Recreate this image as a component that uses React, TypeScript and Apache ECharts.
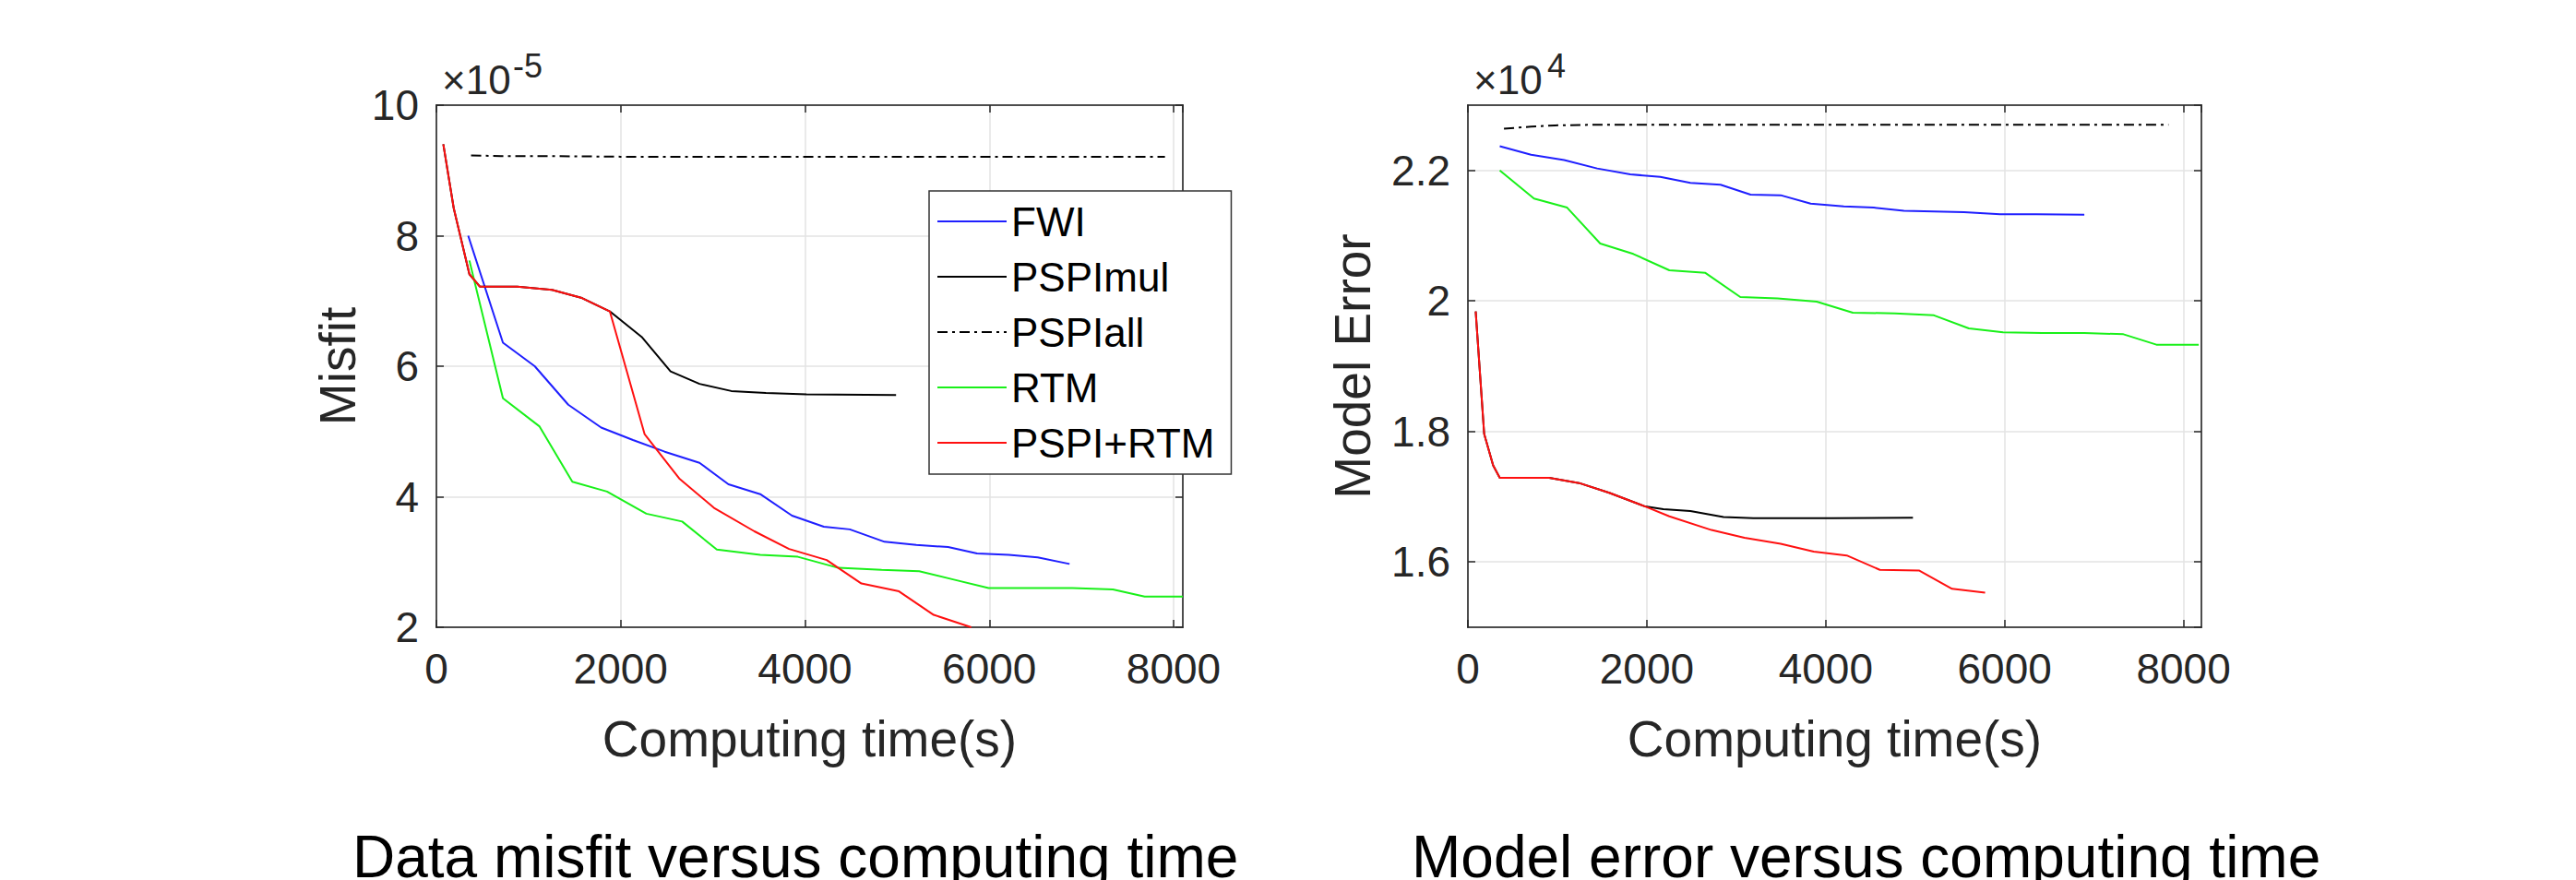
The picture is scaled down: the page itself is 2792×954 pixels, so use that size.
import React, { useEffect, useRef } from "react";
import * as echarts from "echarts";

// ---------- data ----------
const seriesNames = ["FWI", "PSPImul", "PSPIall", "RTM", "PSPI+RTM"];
const seriesColors = ["#1f1fff", "#000000", "#000000", "#19f019", "#ff1010"];

// Data misfit (x 10^-5) versus computing time (s)
const fwiMisfit = [[345, 8.0], [722, 6.36], [1067, 6.0], [1431, 5.41], [1788, 5.06], [2133, 4.87], [2478, 4.69], [2855, 4.52], [3169, 4.19], [3514, 4.04], [3859, 3.71], [4204, 3.54], [4486, 3.5], [4863, 3.31], [5208, 3.26], [5553, 3.23], [5867, 3.13], [6212, 3.11], [6525, 3.07], [6871, 2.97]];
const pspiMulMisfit = [[75, 9.4], [188, 8.42], [358, 7.41], [471, 7.22], [878, 7.22], [1255, 7.17], [1569, 7.05], [1882, 6.84], [2227, 6.45], [2541, 5.92], [2855, 5.73], [3200, 5.62], [3576, 5.59], [4016, 5.57], [4988, 5.56]];
const pspiAllMisfit = [[376, 9.23], [700, 9.22], [1200, 9.22], [2000, 9.21], [3000, 9.21], [4000, 9.21], [5000, 9.21], [6000, 9.21], [7000, 9.21], [7906, 9.21]];
const rtmMisfit = [[358, 7.62], [722, 5.51], [1117, 5.08], [1475, 4.23], [1851, 4.08], [2278, 3.74], [2667, 3.62], [3043, 3.19], [3514, 3.11], [3922, 3.08], [4361, 2.91], [4831, 2.88], [5239, 2.86], [5616, 2.73], [5992, 2.6], [6431, 2.6], [6902, 2.6], [7341, 2.58], [7686, 2.47], [8100, 2.47]];
const pspiRtmMisfit = [[75, 9.4], [188, 8.42], [358, 7.41], [471, 7.22], [878, 7.22], [1255, 7.17], [1569, 7.05], [1882, 6.84], [2259, 4.96], [2635, 4.28], [3012, 3.83], [3451, 3.47], [3827, 3.2], [4235, 3.03], [4612, 2.67], [5020, 2.55], [5396, 2.19], [5804, 2.0]];

// Model error (x 10^4) versus computing time (s)
const fwiError = [[356, 2.237], [706, 2.224], [1076, 2.216], [1445, 2.203], [1815, 2.194], [2151, 2.19], [2487, 2.181], [2824, 2.178], [3160, 2.163], [3496, 2.162], [3832, 2.149], [4202, 2.145], [4538, 2.143], [4874, 2.138], [5210, 2.137], [5546, 2.136], [5950, 2.133], [6353, 2.133], [6891, 2.132]];
const pspiMulError = [[87, 1.984], [182, 1.796], [282, 1.748], [356, 1.729], [908, 1.729], [1244, 1.721], [1580, 1.706], [1983, 1.685], [2185, 1.681], [2487, 1.678], [2857, 1.669], [3193, 1.667], [4067, 1.667], [4975, 1.668]];
const pspiAllError = [[403, 2.264], [706, 2.267], [975, 2.269], [1400, 2.27], [2500, 2.27], [3500, 2.27], [4500, 2.27], [5500, 2.27], [6500, 2.27], [7832, 2.27]];
const rtmError = [[356, 2.2], [739, 2.157], [1109, 2.143], [1479, 2.088], [1849, 2.072], [2252, 2.047], [2655, 2.043], [3045, 2.006], [3462, 2.004], [3899, 1.999], [4303, 1.982], [4773, 1.981], [5210, 1.978], [5600, 1.958], [5983, 1.952], [6420, 1.951], [6891, 1.951], [7328, 1.949], [7697, 1.933], [8170, 1.933]];
const pspiRtmError = [[87, 1.984], [182, 1.796], [282, 1.748], [356, 1.729], [908, 1.729], [1244, 1.721], [1580, 1.706], [1983, 1.685], [2252, 1.67], [2723, 1.649], [3092, 1.637], [3496, 1.628], [3866, 1.616], [4235, 1.61], [4605, 1.588], [5042, 1.587], [5412, 1.559], [5782, 1.553]];

const misfitSeries = [fwiMisfit, pspiMulMisfit, pspiAllMisfit, rtmMisfit, pspiRtmMisfit];
const errorSeries = [fwiError, pspiMulError, pspiAllError, rtmError, pspiRtmError];

const xTickInterval = 2000;
const misfitRange = [2, 10];
const misfitTickInterval = 2;
const errorRange = [1.5, 2.3];

const captions = ["Data misfit versus computing time", "Model error versus computing time"];
const yNames = ["Misfit", "Model Error"];
const xName = "Computing time(s)";
const exponentBase = "\u00d710";
const exponentPowers = ["-5", "4"];

// ---------- styling ----------
const FONT = "'Liberation Sans', Arial, Helvetica, sans-serif";
const AXIS = "#262626";
const GRIDC = "#e3e3e3";

const grids = [
  { left: 473, top: 114, width: 809, height: 566, xMax: 8100 },
  { left: 1591, top: 114, width: 795, height: 566, xMax: 8200 },
];

function buildOption() {
  const xAxes: any[] = [];
  const yAxes: any[] = [];
  grids.forEach((g, gi) => {
    const common = {
      type: "value",
      gridIndex: gi,
      min: 0,
      max: g.xMax,
      interval: xTickInterval,
      axisLine: { show: true, onZero: false, lineStyle: { color: AXIS, width: 1.5 } },
      axisTick: { show: true, inside: true, length: 8, lineStyle: { color: AXIS, width: 1.5 } },
    };
    xAxes.push({
      ...common,
      position: "bottom",
      axisLabel: {
        show: true,
        margin: 22,
        fontSize: 46,
        fontFamily: FONT,
        color: AXIS,
        showMaxLabel: false,
        formatter: (v: number) => String(v),
      },
      splitLine: { show: true, lineStyle: { color: GRIDC, width: 1.5 } },
      name: xName,
      nameLocation: "middle",
      nameGap: 93,
      nameTextStyle: { fontSize: 55, fontFamily: FONT, color: AXIS },
    });
    xAxes.push({
      ...common,
      position: "top",
      axisLabel: { show: false },
      splitLine: { show: false },
    });

    const yCommon: any =
      gi === 0
        ? { min: misfitRange[0], max: misfitRange[1], interval: misfitTickInterval }
        : { min: errorRange[0], max: errorRange[1], splitNumber: 4 };
    const yBase = {
      type: "value",
      gridIndex: gi,
      ...yCommon,
      axisLine: { show: true, onZero: false, lineStyle: { color: AXIS, width: 1.5 } },
      axisTick: { show: true, inside: true, length: 8, lineStyle: { color: AXIS, width: 1.5 } },
    };
    yAxes.push({
      ...yBase,
      position: "left",
      axisLabel: {
        show: true,
        margin: 19,
        fontSize: 46,
        fontFamily: FONT,
        color: AXIS,
        showMinLabel: gi === 0,
        showMaxLabel: gi === 0,
        formatter: (v: number) => String(+v.toFixed(1)),
      },
      splitLine: { show: true, lineStyle: { color: GRIDC, width: 1.5 } },
      name: yNames[gi],
      nameLocation: "middle",
      nameGap: gi === 0 ? 80 : 98,
      nameTextStyle: { fontSize: 55, fontFamily: FONT, color: AXIS },
    });
    yAxes.push({
      ...yBase,
      position: "right",
      axisLabel: { show: false },
      splitLine: { show: false },
    });
  });

  const series: any[] = [];
  [misfitSeries, errorSeries].forEach((set, gi) => {
    set.forEach((data, si) => {
      series.push({
        type: "line",
        name: seriesNames[si],
        xAxisIndex: gi * 2,
        yAxisIndex: gi * 2,
        data,
        symbol: "none",
        showSymbol: false,
        clip: true,
        color: seriesColors[si],
        lineStyle: {
          color: seriesColors[si],
          width: 2,
          type: si === 2 ? [11, 5, 3, 5] : "solid",
        },
        emphasis: { disabled: true },
      });
    });
  });

  const graphic: any[] = [];
  const baseX = [479, 1597];
  const powX = [556, 1677];
  [0, 1].forEach((i) => {
    graphic.push({
      type: "text",
      x: baseX[i],
      y: 86,
      style: {
        text: exponentBase,
        fontSize: 44,
        fontFamily: FONT,
        fill: AXIS,
        align: "left",
        verticalAlign: "middle",
      },
    });
    graphic.push({
      type: "text",
      x: powX[i],
      y: 71,
      style: {
        text: exponentPowers[i],
        fontSize: 36,
        fontFamily: FONT,
        fill: AXIS,
        align: "left",
        verticalAlign: "middle",
      },
    });
  });

  return {
    animation: false,
    backgroundColor: "#ffffff",
    textStyle: { fontFamily: FONT },
    title: [
      { text: captions[0], left: 382, top: 897, padding: 0, textStyle: { fontSize: 64, fontWeight: "normal", fontFamily: FONT, color: "#000" } },
      { text: captions[1], left: 1530, top: 897, padding: 0, textStyle: { fontSize: 64, fontWeight: "normal", fontFamily: FONT, color: "#000" } },
    ],
    grid: grids.map((g) => ({
      left: g.left,
      top: g.top,
      width: g.width,
      height: g.height,
      show: true,
      borderColor: AXIS,
      borderWidth: 1.5,
      backgroundColor: "#fff",
      containLabel: false,
    })),
    legend: {
      show: true,
      orient: "vertical",
      left: 1007,
      top: 207,
      padding: [11, 18, 12, 8],
      itemWidth: 75,
      itemHeight: 14,
      itemGap: 16,
      backgroundColor: "#fff",
      borderColor: "#333",
      borderWidth: 1.5,
      borderRadius: 0,
      selectedMode: false,
      data: seriesNames,
      itemStyle: { opacity: 0, borderWidth: 0 },
      textStyle: { fontSize: 44, lineHeight: 44, fontFamily: FONT, color: "#000" },
    },
    xAxis: xAxes,
    yAxis: yAxes,
    series,
    graphic,
  };
}

export default function App() {
  const ref = useRef<HTMLDivElement>(null);
  useEffect(() => {
    if (!ref.current) return;
    const chart = echarts.init(ref.current, null, { renderer: "svg" });
    chart.setOption(buildOption() as any);
    return () => chart.dispose();
  }, []);
  return (
    <div
      ref={ref}
      style={{ position: "absolute", left: 0, top: 0, width: 2792, height: 954, background: "#fff" }}
    />
  );
}
